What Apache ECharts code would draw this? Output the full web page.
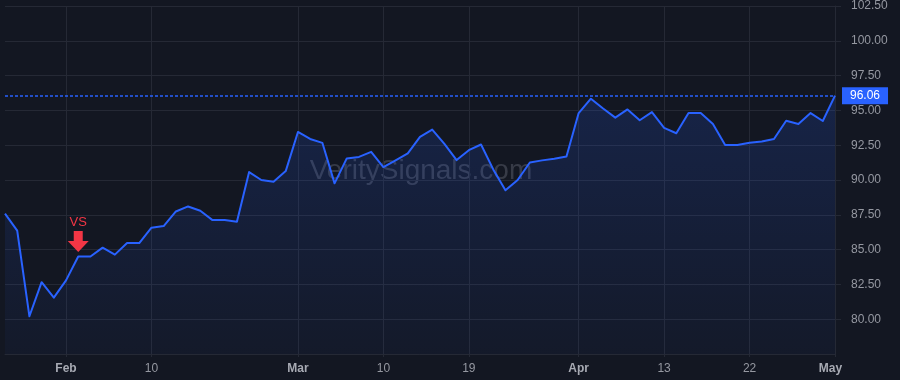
<!DOCTYPE html>
<html><head><meta charset="utf-8">
<script src="https://cdn.jsdelivr.net/npm/echarts@6/dist/echarts.min.js"></script>
<style>html,body{margin:0;padding:0;background:#131722;}#c{width:900px;height:380px;}</style>
</head><body><div id="c"></div>
<script>
// ---- data ----
const prices = [
  87.59, 86.36, 80.21, 82.66, 81.55, 82.79, 84.50, 84.50, 85.14, 84.64,
  85.48, 85.47, 86.57, 86.69, 87.74, 88.10, 87.79, 87.12, 87.12, 87.00,
  90.57, 90.00, 89.88, 90.64, 93.45, 92.95, 92.67, 89.76, 91.55, 91.66,
  92.02, 90.93, 91.41, 91.91, 93.10, 93.62, 92.59, 91.43, 92.14, 92.55,
  90.76, 89.26, 90.00, 91.26, 91.41, 91.52, 91.69, 94.81, 95.84, 95.14,
  94.48, 95.07, 94.29, 94.88, 93.74, 93.36, 94.81, 94.81, 94.02, 92.52,
  92.52, 92.67, 92.76, 92.95, 94.26, 94.02, 94.81, 94.24, 96.06
];
const tickIndex = [5, 12, 24, 31, 38, 47, 54, 61, 68];
const tickLabels = ['Feb', '10', 'Mar', '10', '19', 'Apr', '13', '22', 'May'];
const monthLabels = ['Feb', 'Mar', 'Apr', 'May'];
const lastPrice = 96.06;
const signalIndex = 6;
const signalText = 'VS';
const watermarkText = 'VeritySignals.com';
const yMin = 77.5, yMax = 102.5, yStep = 2.5;

const categories = prices.map((_, i) => 'bar' + i);

const chart = echarts.init(document.getElementById('c'), null, {renderer: 'canvas'});
const gridColor = '#252935';
const font = 'Liberation Sans, Arial, sans-serif';

chart.setOption({
  backgroundColor: '#131722',
  animation: false,
  grid: {left: 5, right: 65, top: 4, bottom: 26, containLabel: false},
  graphic: [{
    type: 'text', x: 421, y: 171, z: 0, silent: true,
    style: {text: watermarkText, fontSize: 28, fontFamily: font, fill: 'rgba(150,155,170,0.28)',
      textAlign: 'center', textVerticalAlign: 'middle'}
  }],
  xAxis: {
    type: 'category', data: categories, boundaryGap: false,
    axisLine: {show: true, lineStyle: {color: gridColor}},
    axisTick: {show: true, length: 3, lineStyle: {color: gridColor}, interval: (i) => tickIndex.includes(i)},
    splitLine: {show: true, lineStyle: {color: gridColor, width: 1}, interval: (i) => tickIndex.includes(i)},
    axisLabel: {
      interval: (i) => tickIndex.includes(i), margin: 9,
      formatter: (v, i) => {
        const k = tickIndex.indexOf(i);
        if (k < 0) return '';
        const t = tickLabels[k];
        if (k === tickIndex.length - 1) return '{e|' + t + '}';
        return monthLabels.includes(t) ? '{m|' + t + '}' : '{d|' + t + '}';
      },
      rich: {
        m: {fontSize: 12, fontWeight: 'bold', color: '#a7aab3', fontFamily: font},
        e: {fontSize: 12, fontWeight: 'bold', color: '#a7aab3', fontFamily: font, padding: [0, 9, 0, 0]},
        d: {fontSize: 12, color: '#9598a1', fontFamily: font}
      }
    }
  },
  yAxis: {
    type: 'value', position: 'right', min: yMin, max: yMax, interval: yStep,
    axisLine: {show: true, lineStyle: {color: gridColor}},
    axisTick: {show: true, length: 6, lineStyle: {color: gridColor}},
    splitLine: {show: true, lineStyle: {color: gridColor, width: 1}},
    axisLabel: {
      margin: 16, fontSize: 12, color: '#9598a1', fontFamily: font,
      formatter: (v) => v.toFixed(2), showMinLabel: false
    }
  },
  series: [{
    type: 'line', data: prices, symbol: 'none', z: 3,
    lineStyle: {color: '#2962ff', width: 2, join: 'round'},
    areaStyle: {
      origin: 'start',
      color: new echarts.graphic.LinearGradient(0, 0, 0, 1, [
        {offset: 0, color: 'rgba(41,98,255,0.24)'},
        {offset: 1, color: 'rgba(41,98,255,0.05)'}
      ])
    },
    markLine: {
      silent: true, symbol: ['none', 'none'],
      lineStyle: {color: '#2962ff', type: [3, 2], width: 1.5, opacity: 1},
      emphasis: {disabled: true},
      label: {
        show: true, position: 'end', distance: 7,
        formatter: () => lastPrice.toFixed(2),
        backgroundColor: '#2962ff', color: '#ffffff', fontSize: 12, fontFamily: font,
        padding: [2, 8, 2, 8], lineHeight: 13
      },
      data: [{yAxis: lastPrice}]
    },
    markPoint: {
      silent: true,
      data: [{
        coord: [categories[signalIndex], prices[signalIndex]],
        symbol: 'path://M6,0L15,0L15,10L21,10L10.5,21L0,10L6,10Z',
        symbolSize: [21, 21], symbolOffset: [0, -15],
        itemStyle: {color: '#f23645'},
        label: {show: true, position: 'top', distance: 2, formatter: signalText,
          color: '#f23645', fontSize: 13, fontFamily: font}
      }]
    }
  }]
});
</script></body></html>
